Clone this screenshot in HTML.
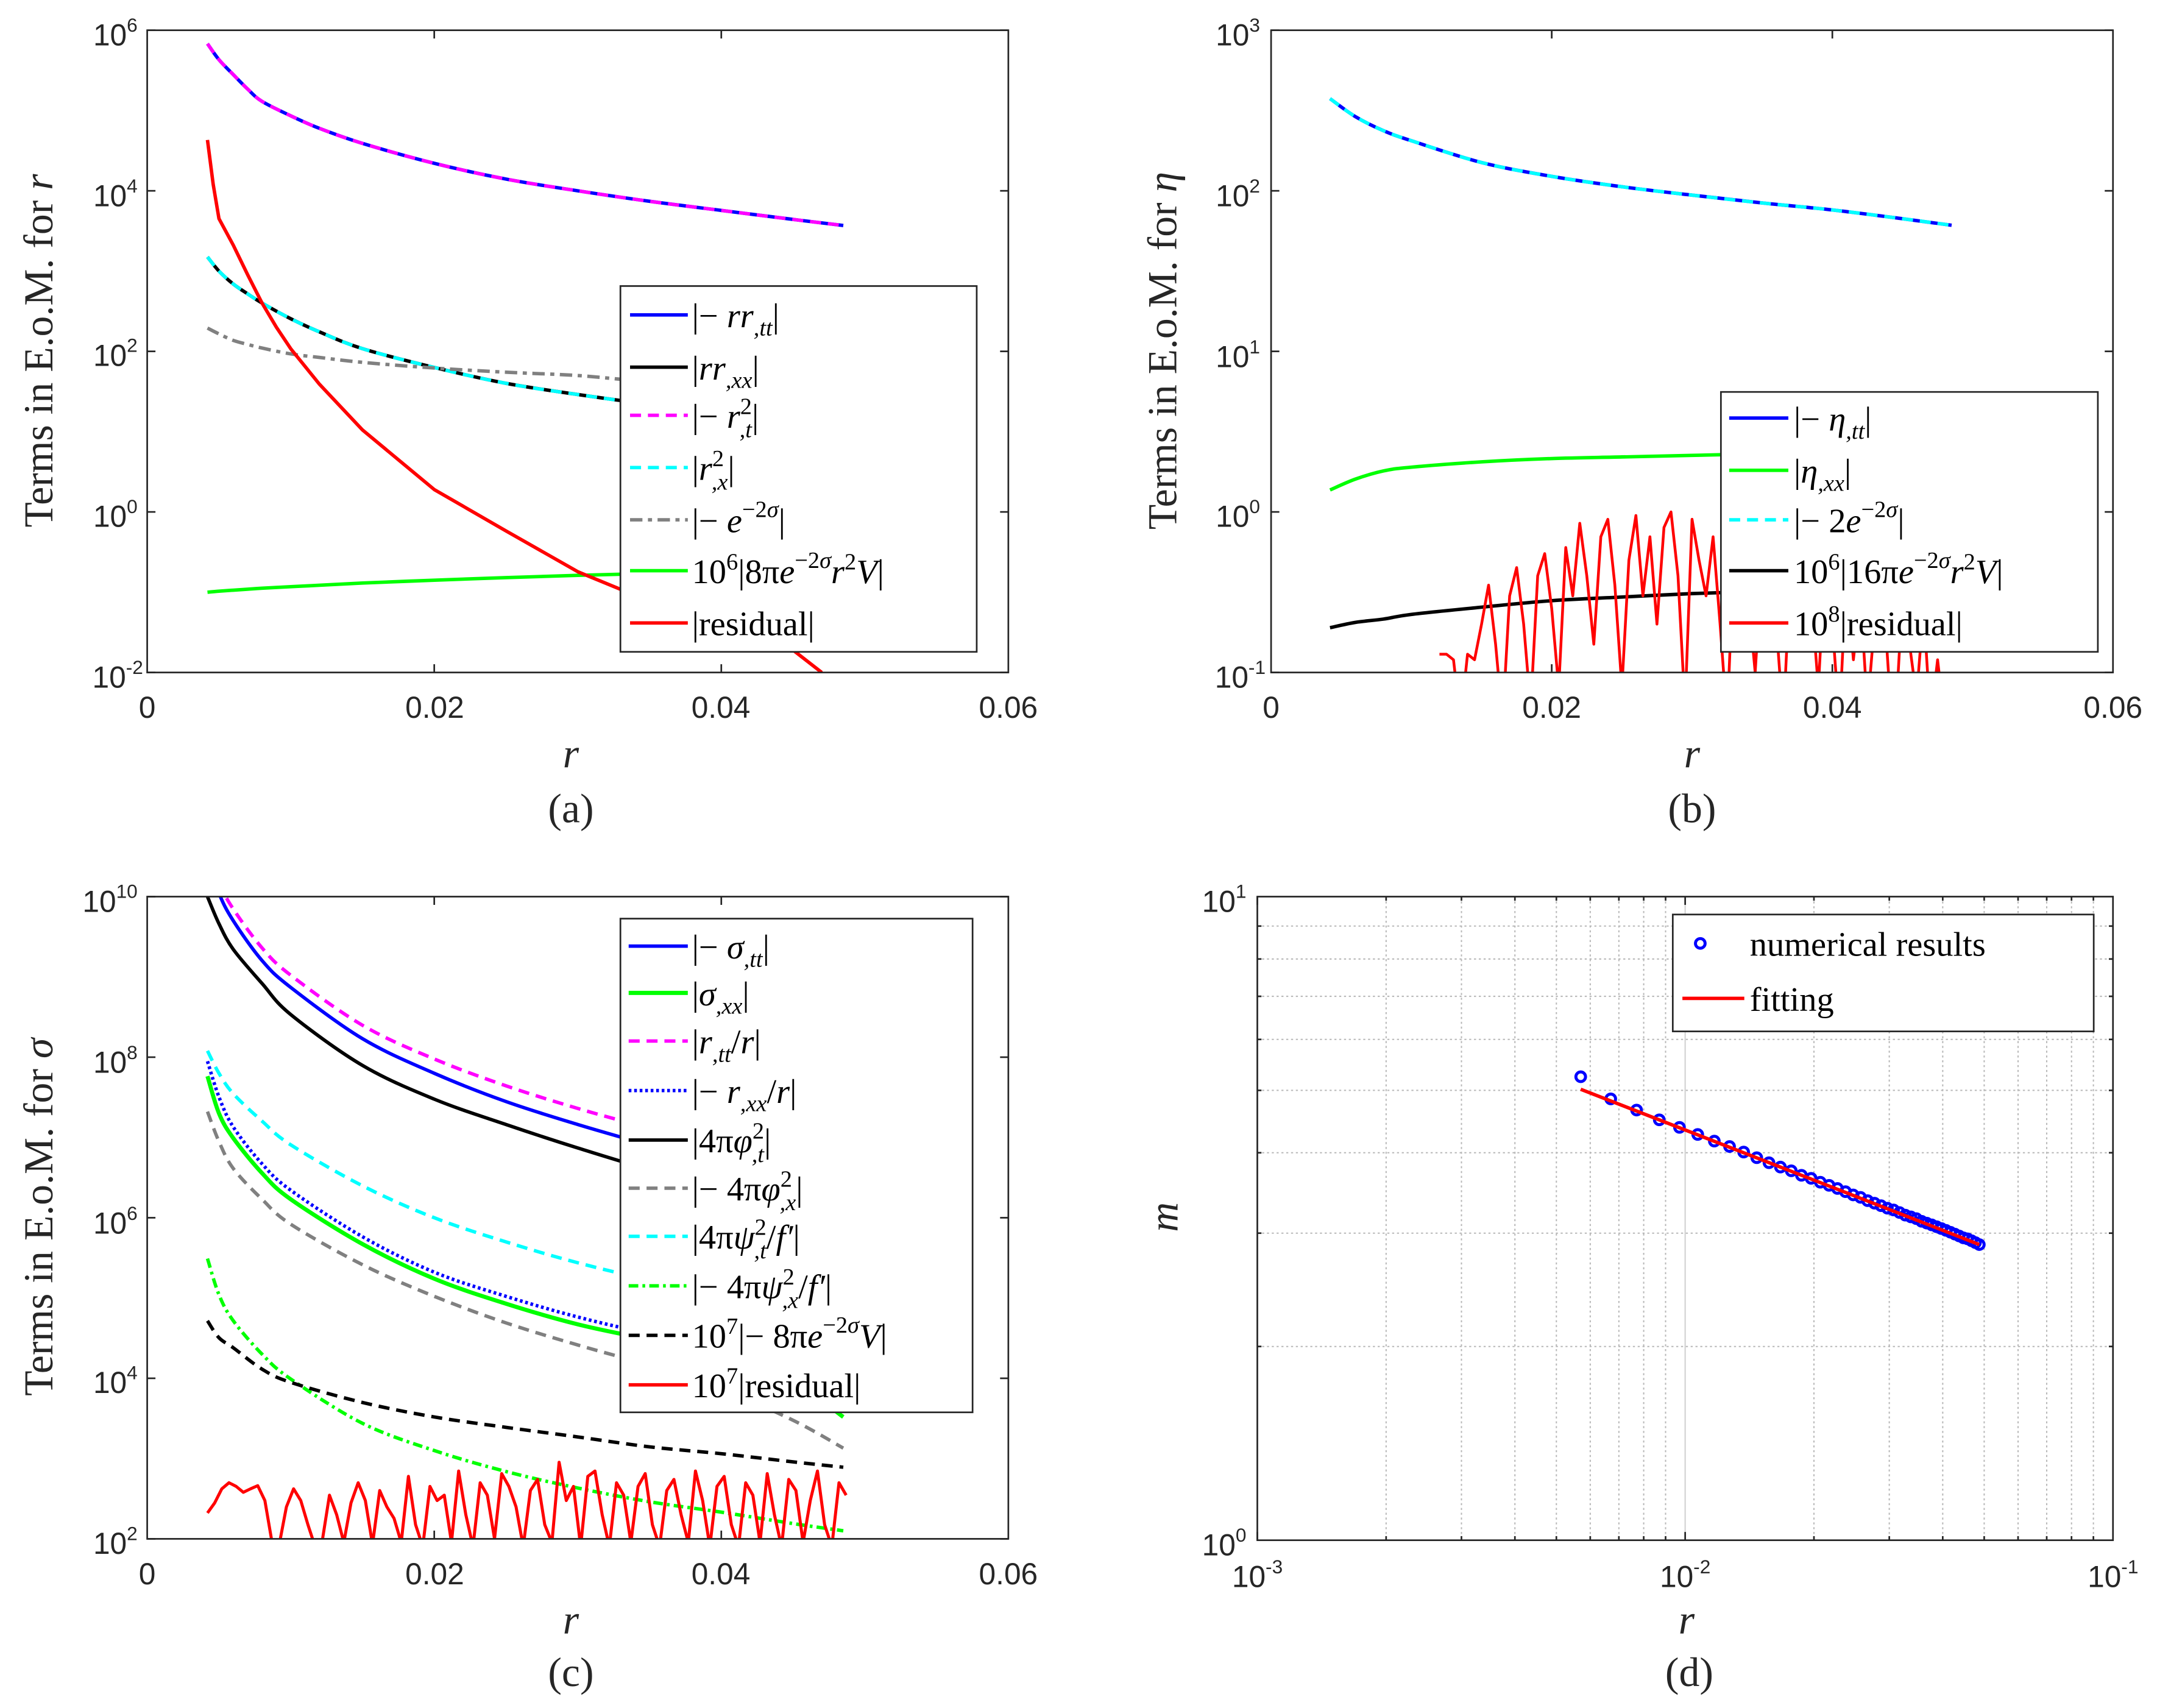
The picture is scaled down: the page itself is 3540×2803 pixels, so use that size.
<!DOCTYPE html>
<html><head><meta charset="utf-8"><style>
html,body{margin:0;padding:0;background:#fff;}
svg{display:block;}
.tk{font-family:"Liberation Sans",sans-serif;font-size:22px;fill:#262626;}
.sp{font-size:14px;}
.ax{font-family:"Liberation Serif",serif;font-size:30px;fill:#262626;}
.lg{font-family:"Liberation Serif",serif;font-size:25px;fill:#000;}
.it{font-style:italic;}
.sb{font-size:17px;}
</style></head><body>
<svg id="fig" xmlns="http://www.w3.org/2000/svg" width="3540" height="2803" viewBox="0 0 1568 1242" preserveAspectRatio="none">
<defs>
<clipPath id="ca"><rect x="107" y="22" width="626" height="467"/></clipPath>
<clipPath id="cb"><rect x="924" y="22" width="612" height="467"/></clipPath>
<clipPath id="cc"><rect x="107" y="652" width="626" height="467"/></clipPath>
<clipPath id="cd"><rect x="914" y="652" width="622" height="468"/></clipPath>
</defs>
<rect width="1568" height="1242" fill="#fff"/>
<g id="grid-d"></g>
<g id="series-a" clip-path="url(#ca)"></g>
<g id="series-b" clip-path="url(#cb)"></g>
<g id="series-c" clip-path="url(#cc)"></g>
<g id="series-d" clip-path="url(#cd)"></g>
<g id="axes" fill="none" stroke="#262626" stroke-width="1.2"></g>

<g class="tk">
<text x="107" y="522" text-anchor="middle">0</text>
<text x="316" y="522" text-anchor="middle">0.02</text>
<text x="524" y="522" text-anchor="middle">0.04</text>
<text x="733" y="522" text-anchor="middle">0.06</text>
<text x="100" y="33" text-anchor="end">10<tspan class="sp" dy="-10">6</tspan></text>
<text x="100" y="150" text-anchor="end">10<tspan class="sp" dy="-10">4</tspan></text>
<text x="100" y="266" text-anchor="end">10<tspan class="sp" dy="-10">2</tspan></text>
<text x="100" y="383" text-anchor="end">10<tspan class="sp" dy="-10">0</tspan></text>
<text x="104" y="500" text-anchor="end">10<tspan class="sp" dy="-10">-2</tspan></text>
</g>
<text class="ax it" x="415" y="558" text-anchor="middle">r</text>
<text class="ax" x="415" y="598" text-anchor="middle">(a)</text>
<text class="ax" transform="translate(38,255) rotate(-90)" text-anchor="middle">Terms in E.o.M. for <tspan class="it">r</tspan></text>

<g class="tk">
<text x="924" y="522" text-anchor="middle">0</text>
<text x="1128" y="522" text-anchor="middle">0.02</text>
<text x="1332" y="522" text-anchor="middle">0.04</text>
<text x="1536" y="522" text-anchor="middle">0.06</text>
<text x="916" y="33" text-anchor="end">10<tspan class="sp" dy="-10">3</tspan></text>
<text x="916" y="150" text-anchor="end">10<tspan class="sp" dy="-10">2</tspan></text>
<text x="916" y="267" text-anchor="end">10<tspan class="sp" dy="-10">1</tspan></text>
<text x="916" y="383" text-anchor="end">10<tspan class="sp" dy="-10">0</tspan></text>
<text x="920" y="500" text-anchor="end">10<tspan class="sp" dy="-10">-1</tspan></text>
</g>
<text class="ax it" x="1230" y="558" text-anchor="middle">r</text>
<text class="ax" x="1230" y="598" text-anchor="middle">(b)</text>
<text class="ax" transform="translate(855,255) rotate(-90)" text-anchor="middle">Terms in E.o.M. for <tspan class="it">η</tspan></text>

<g class="tk">
<text x="107" y="1152" text-anchor="middle">0</text>
<text x="316" y="1152" text-anchor="middle">0.02</text>
<text x="524" y="1152" text-anchor="middle">0.04</text>
<text x="733" y="1152" text-anchor="middle">0.06</text>
<text x="100" y="663" text-anchor="end">10<tspan class="sp" dy="-10">10</tspan></text>
<text x="100" y="780" text-anchor="end">10<tspan class="sp" dy="-10">8</tspan></text>
<text x="100" y="897" text-anchor="end">10<tspan class="sp" dy="-10">6</tspan></text>
<text x="100" y="1013" text-anchor="end">10<tspan class="sp" dy="-10">4</tspan></text>
<text x="100" y="1130" text-anchor="end">10<tspan class="sp" dy="-10">2</tspan></text>
</g>
<text class="ax it" x="415" y="1188" text-anchor="middle">r</text>
<text class="ax" x="415" y="1226" text-anchor="middle">(c)</text>
<text class="ax" transform="translate(38,885) rotate(-90)" text-anchor="middle">Terms in E.o.M. for <tspan class="it">σ</tspan></text>

<g class="tk">
<text x="914" y="1154" text-anchor="middle">10<tspan class="sp" dy="-10">-3</tspan></text>
<text x="1225" y="1154" text-anchor="middle">10<tspan class="sp" dy="-10">-2</tspan></text>
<text x="1536" y="1154" text-anchor="middle">10<tspan class="sp" dy="-10">-1</tspan></text>
<text x="906" y="663" text-anchor="end">10<tspan class="sp" dy="-10">1</tspan></text>
<text x="906" y="1131" text-anchor="end">10<tspan class="sp" dy="-10">0</tspan></text>
</g>
<text class="ax it" x="1226" y="1188" text-anchor="middle">r</text>
<text class="ax" x="1228" y="1226" text-anchor="middle">(d)</text>
<text class="ax it" transform="translate(856,885) rotate(-90)" text-anchor="middle">m</text>

<g>
<rect x="451" y="208" width="259" height="266" fill="#fff" stroke="#262626" stroke-width="1.2"/>
<line x1="458" y1="229" x2="500" y2="229" stroke="#0000ff" stroke-width="2.5"/>
<text class="lg" x="503" y="238">|− <tspan class="it">rr</tspan><tspan class="sb it" dy="6">,tt</tspan><tspan dy="-6">|</tspan></text>
<line x1="458" y1="267" x2="500" y2="267" stroke="#000" stroke-width="2.5"/>
<text class="lg" x="503" y="276">|<tspan class="it">rr</tspan><tspan class="sb it" dy="6">,xx</tspan><tspan dy="-6">|</tspan></text>
<line x1="458" y1="302" x2="500" y2="302" stroke="#ff00ff" stroke-width="2.5" stroke-dasharray="8,5"/>
<text class="lg" x="503" y="311">|− <tspan class="it">r</tspan><tspan class="sb" dy="-10">2</tspan><tspan class="sb it" dx="-9" dy="17">,t</tspan><tspan dy="-7">|</tspan></text>
<line x1="458" y1="340" x2="500" y2="340" stroke="#00ffff" stroke-width="2.5" stroke-dasharray="8,5"/>
<text class="lg" x="503" y="349">|<tspan class="it">r</tspan><tspan class="sb" dy="-10">2</tspan><tspan class="sb it" dx="-9" dy="17">,x</tspan><tspan dy="-7">|</tspan></text>
<line x1="458" y1="378" x2="500" y2="378" stroke="#808080" stroke-width="2.5" stroke-dasharray="9,4,3,4"/>
<text class="lg" x="503" y="387">|− <tspan class="it">e</tspan><tspan class="sb" dy="-11">−2<tspan class="it">σ</tspan></tspan><tspan dy="11">|</tspan></text>
<line x1="458" y1="415" x2="500" y2="415" stroke="#00ff00" stroke-width="2.5"/>
<text class="lg" x="503" y="424">10<tspan class="sb" dy="-10">6</tspan><tspan dy="10">|8π</tspan><tspan class="it">e</tspan><tspan class="sb" dy="-11">−2<tspan class="it">σ</tspan></tspan><tspan class="it" dy="11">r</tspan><tspan class="sb" dy="-10">2</tspan><tspan class="it" dy="10">V</tspan>|</text>
<line x1="458" y1="453" x2="500" y2="453" stroke="#ff0000" stroke-width="2.5"/>
<text class="lg" x="503" y="462">|residual|</text>
</g>

<g>
<rect x="1251" y="285" width="274" height="189" fill="#fff" stroke="#262626" stroke-width="1.2"/>
<line x1="1257" y1="304" x2="1300" y2="304" stroke="#0000ff" stroke-width="2.5"/>
<text class="lg" x="1304" y="313">|− <tspan class="it">η</tspan><tspan class="sb it" dy="6">,tt</tspan><tspan dy="-6">|</tspan></text>
<line x1="1257" y1="342" x2="1300" y2="342" stroke="#00ff00" stroke-width="2.5"/>
<text class="lg" x="1304" y="351">|<tspan class="it">η</tspan><tspan class="sb it" dy="6">,xx</tspan><tspan dy="-6">|</tspan></text>
<line x1="1257" y1="378" x2="1300" y2="378" stroke="#00ffff" stroke-width="2.5" stroke-dasharray="8,5"/>
<text class="lg" x="1304" y="387">|− 2<tspan class="it">e</tspan><tspan class="sb" dy="-11">−2<tspan class="it">σ</tspan></tspan><tspan dy="11">|</tspan></text>
<line x1="1257" y1="415" x2="1300" y2="415" stroke="#000" stroke-width="2.5"/>
<text class="lg" x="1304" y="424">10<tspan class="sb" dy="-10">6</tspan><tspan dy="10">|16π</tspan><tspan class="it">e</tspan><tspan class="sb" dy="-11">−2<tspan class="it">σ</tspan></tspan><tspan class="it" dy="11">r</tspan><tspan class="sb" dy="-10">2</tspan><tspan class="it" dy="10">V</tspan>|</text>
<line x1="1257" y1="453" x2="1300" y2="453" stroke="#ff0000" stroke-width="2.5"/>
<text class="lg" x="1304" y="462">10<tspan class="sb" dy="-10">8</tspan><tspan dy="10">|residual|</tspan></text>
</g>

<g>
<rect x="451" y="668" width="256" height="359" fill="#fff" stroke="#262626" stroke-width="1.2"/>
<line x1="457" y1="688" x2="500" y2="688" stroke="#0000ff" stroke-width="2.5"/>
<text class="lg" x="503" y="697">|− <tspan class="it">σ</tspan><tspan class="sb it" dy="6">,tt</tspan><tspan dy="-6">|</tspan></text>
<line x1="457" y1="722" x2="500" y2="722" stroke="#00ff00" stroke-width="3"/>
<text class="lg" x="503" y="731">|<tspan class="it">σ</tspan><tspan class="sb it" dy="6">,xx</tspan><tspan dy="-6">|</tspan></text>
<line x1="457" y1="757" x2="500" y2="757" stroke="#ff00ff" stroke-width="2.5" stroke-dasharray="8,5"/>
<text class="lg" x="503" y="766">|<tspan class="it">r</tspan><tspan class="sb it" dy="6">,tt</tspan><tspan dy="-6">/</tspan><tspan class="it">r</tspan>|</text>
<line x1="457" y1="793" x2="500" y2="793" stroke="#0000ff" stroke-width="2.5" stroke-dasharray="2,2"/>
<text class="lg" x="503" y="802">|− <tspan class="it">r</tspan><tspan class="sb it" dy="6">,xx</tspan><tspan dy="-6">/</tspan><tspan class="it">r</tspan>|</text>
<line x1="457" y1="829" x2="500" y2="829" stroke="#000" stroke-width="2.5"/>
<text class="lg" x="503" y="838">|4π<tspan class="it">φ</tspan><tspan class="sb" dy="-10">2</tspan><tspan class="sb it" dx="-9" dy="17">,t</tspan><tspan dy="-7">|</tspan></text>
<line x1="457" y1="864" x2="500" y2="864" stroke="#808080" stroke-width="2.5" stroke-dasharray="8,5"/>
<text class="lg" x="503" y="873">|− 4π<tspan class="it">φ</tspan><tspan class="sb" dy="-10">2</tspan><tspan class="sb it" dx="-9" dy="17">,x</tspan><tspan dy="-7">|</tspan></text>
<line x1="457" y1="899" x2="500" y2="899" stroke="#00ffff" stroke-width="2.5" stroke-dasharray="8,5"/>
<text class="lg" x="503" y="908">|4π<tspan class="it">ψ</tspan><tspan class="sb" dy="-10">2</tspan><tspan class="sb it" dx="-9" dy="17">,t</tspan><tspan dy="-7">/</tspan><tspan class="it">f′</tspan>|</text>
<line x1="457" y1="935" x2="500" y2="935" stroke="#00ff00" stroke-width="2.5" stroke-dasharray="7,3,2,3"/>
<text class="lg" x="503" y="944">|− 4π<tspan class="it">ψ</tspan><tspan class="sb" dy="-10">2</tspan><tspan class="sb it" dx="-9" dy="17">,x</tspan><tspan dy="-7">/</tspan><tspan class="it">f′</tspan>|</text>
<line x1="457" y1="971" x2="500" y2="971" stroke="#000" stroke-width="2.5" stroke-dasharray="8,5"/>
<text class="lg" x="503" y="980">10<tspan class="sb" dy="-10">7</tspan><tspan dy="10">|− 8π</tspan><tspan class="it">e</tspan><tspan class="sb" dy="-11">−2<tspan class="it">σ</tspan></tspan><tspan class="it" dy="11">V</tspan>|</text>
<line x1="457" y1="1007" x2="500" y2="1007" stroke="#ff0000" stroke-width="2.5"/>
<text class="lg" x="503" y="1016">10<tspan class="sb" dy="-10">7</tspan><tspan dy="10">|residual|</tspan></text>
</g>

<g>
<rect x="1216" y="665" width="306" height="85" fill="#fff" stroke="#262626" stroke-width="1.2"/>
<circle cx="1236" cy="686" r="3.5" fill="none" stroke="#0000ff" stroke-width="2.2"/>
<text class="lg" x="1272" y="695">numerical results</text>
<line x1="1223" y1="726" x2="1268" y2="726" stroke="#ff0000" stroke-width="2.5"/>
<text class="lg" x="1272" y="735">fitting</text>
</g>
</svg>
<script>
const aR = [0.0042,0.005,0.006,0.007,0.008,0.01,0.012,0.015,0.02,0.025,0.03,0.035,0.04,0.045,0.0485];
const aRtt = [6.8e5,4.3e5,2.8e5,1.85e5,1.3e5,8.6e4,6.0e4,3.9e4,2.2e4,1.4e4,1.0e4,7.4e3,5.7e3,4.4e3,3.7e3];
const aRxx = [1500,1000,690,520,400,255,175,108,63,40,29,22,18,15,13];
const aExp = [195,165,137,122,110,93,84,73,62,55,50,42,39,36,34];
const aV = [0.1,0.103,0.106,0.109,0.112,0.117,0.122,0.13,0.141,0.152,0.162,0.171,0.18,0.188,0.195];
const aResR = [0.0042,0.0046,0.005,0.006,0.007,0.008,0.009,0.01,0.012,0.015,0.02,0.025,0.03,0.035,0.04,0.045,0.047];
const aRes = [4.3e4,1.2e4,4.5e3,2.1e3,900,400,200,108,39,10.5,1.9,0.58,0.18,0.077,0.038,0.019,0.01];
const bR = [0.0042,0.006,0.008,0.01,0.015,0.02,0.025,0.03,0.035,0.04,0.045,0.0485];
const bEtt = [375,290,237,205,150,123,106,94,84,76,67,61];
const bExx = [1.37,1.6,1.8,1.9,2.05,2.15,2.2,2.25,2.3,2.33,2.36,2.4];
const bV = [0.19,0.205,0.215,0.23,0.255,0.28,0.295,0.31,0.32,0.33,0.34,0.35];
const bResStart = 0.012, bResStep = 0.0005;
const bRes = [0.13,0.13,0.12,0.05,0.13,0.12,0.2,0.35,0.15,0.05,0.3,0.45,0.2,0.06,0.4,0.55,0.25,0.08,0.6,0.3,0.85,0.4,0.15,0.7,0.9,0.35,0.08,0.5,0.95,0.3,0.7,0.2,0.8,1.0,0.4,0.06,0.9,0.5,0.3,0.7,0.2,0.05,0.6,0.8,0.3,0.1,0.5,0.7,0.2,0.05,0.4,0.6,0.15,0.3,0.08,0.5,0.2,0.05,0.4,0.12,0.3,0.06,0.2,0.45,0.1,0.05,0.3,0.15,0.07,0.25,0.05,0.12,0.05];
const cR = [0.0042,0.005,0.006,0.008,0.01,0.015,0.02,0.025,0.03,0.035,0.04,0.045,0.0485];
const cStt = [3e10,1.1e10,5e9,1.6e9,7.4e8,1.7e8,6.3e7,2.8e7,1.45e7,8e6,4.5e6,2.8e6,2e6];
const cSxx = [5.8e7,2e7,9.8e6,3.6e6,1.7e6,4.7e5,1.74e5,8.5e4,4.7e4,3e4,1.8e4,9e3,3.3e3];
const cRttr = [4e10,1.5e10,7e9,2.3e9,1.05e9,2.5e8,9.5e7,4.4e7,2.3e7,1.3e7,7.5e6,4.7e6,3.4e6];
const cRxxr = [8.9e7,3.2e7,1.35e7,4.7e6,2.2e6,5.8e5,2.1e5,1.05e5,5.8e4,3.6e4,2.5e4,1.8e4,1.5e4];
const cPhiT = [1e10,4.6e9,2.2e9,8.3e8,3.4e8,7.9e7,3e7,1.45e7,7.4e6,4e6,2.5e6,1.8e6,1.4e6];
const cPhiX = [2.1e7,8.9e6,4.1e6,1.7e6,8.3e5,2.6e5,1.05e5,4.9e4,2.6e4,1.45e4,7.4e3,3e3,1.35e3];
const cPsiT = [1.2e8,6.3e7,3.5e7,1.6e7,8.1e6,2.5e6,1e6,5e5,2.75e5,1.7e5,1.25e5,1.0e5,9e4];
const cPsiX = [3.1e5,1.1e5,5.2e4,2e4,9.8e3,2.75e3,1.26e3,690,430,290,215,155,126];
const cV = [5.2e4,3.2e4,2.4e4,1.3e4,8.9e3,5e3,3.3e3,2.45e3,1.86e3,1.4e3,1.15e3,910,780];
const cResStart = 0.0042, cResStep = 0.0005;
const cRes = [210,280,420,500,450,380,420,460,300,90,85,250,420,300,150,80,95,350,200,90,280,500,300,85,400,250,180,90,600,150,80,450,300,350,90,700,200,80,500,350,100,650,450,250,80,400,550,150,90,900,300,450,80,600,700,200,80,500,350,90,450,650,150,80,400,550,200,90,700,300,80,450,600,150,80,500,350,90,650,200,80,550,400,90,300,700,150,80,500,350];
const dR = [0.0057,0.0067,0.0077,0.0087,0.0097,0.0107,0.0117,0.0127,0.0137,0.0147,0.0157,0.0167,0.0177,0.0187,0.0197,0.0207,0.0217,0.0227,0.0237,0.0247,0.0257,0.0267,0.0277,0.0287,0.0297,0.0307,0.0317,0.0327,0.0337,0.0347,0.0357,0.0367,0.0377,0.0387,0.0397,0.0407,0.0417,0.0427,0.0437,0.0447,0.0457,0.0467,0.0477,0.0487];
const dM = [5.25,4.85,4.66,4.50,4.38,4.27,4.17,4.09,4.01,3.93,3.86,3.80,3.75,3.69,3.65,3.60,3.56,3.52,3.48,3.44,3.41,3.37,3.34,3.31,3.28,3.26,3.23,3.20,3.18,3.16,3.13,3.11,3.09,3.07,3.05,3.03,3.01,2.99,2.97,2.95,2.94,2.92,2.90,2.88];
const fitR = [0.0057,0.0487];
const fitM = [5.02,2.88];

const xA = v => 107 + v / 0.06 * 626;
const yA = v => 489 - (Math.log10(v) + 2) * 58.375;
const xB = v => 924 + v / 0.06 * 612;
const yB = v => 489 - (Math.log10(v) + 1) * 116.75;
const xC = v => 107 + v / 0.06 * 626;
const yC = v => 1119 - (Math.log10(v) - 2) * 58.375;
const xD = v => 914 + (Math.log10(v) + 3) * 311;
const yD = v => 1120 - Math.log10(v) * 468;

const NS = 'http://www.w3.org/2000/svg';
function mk(tag, parent) { const e = document.createElementNS(NS, tag); parent.appendChild(e); return e; }
function smoothPath(pts) {
  let d = 'M' + pts[0][0].toFixed(2) + ',' + pts[0][1].toFixed(2);
  for (let i = 0; i < pts.length - 1; i++) {
    const p0 = pts[Math.max(0, i - 1)], p1 = pts[i], p2 = pts[i + 1], p3 = pts[Math.min(pts.length - 1, i + 2)];
    const c1x = p1[0] + (p2[0] - p0[0]) / 6, c1y = p1[1] + (p2[1] - p0[1]) / 6;
    const c2x = p2[0] - (p3[0] - p1[0]) / 6, c2y = p2[1] - (p3[1] - p1[1]) / 6;
    d += 'C' + c1x.toFixed(2) + ',' + c1y.toFixed(2) + ' ' + c2x.toFixed(2) + ',' + c2y.toFixed(2) + ' ' + p2[0].toFixed(2) + ',' + p2[1].toFixed(2);
  }
  return d;
}
function linePath(pts) { return pts.map((p, i) => (i ? 'L' : 'M') + p[0].toFixed(2) + ',' + p[1].toFixed(2)).join(''); }
function series(g, xs, ys, fx, fy, color, dash, name, smooth, w) {
  const pts = xs.map((x, i) => [fx(x), fy(Math.max(ys[i], 1e-30))]);
  const p = mk('path', g);
  
  
  p.setAttribute('d', smooth ? smoothPath(pts) : linePath(pts));
  p.setAttribute('fill', 'none');
  p.setAttribute('stroke', color);
  p.setAttribute('stroke-width', w || 2.5);
  p.setAttribute('stroke-linejoin', 'round');
  if (dash) p.setAttribute('stroke-dasharray', dash);
}
const DASH = '8,5', DASHDOT = '9,4,3,4', DOT = '2,2', DASHDOT2 = '7,3,2,3';

const gA = document.getElementById('series-a');
series(gA, aR, aRtt, xA, yA, '#0000ff', null, 'series-a-rtt', true);
series(gA, aR, aRxx, xA, yA, '#000000', null, 'series-a-rxx', true);
series(gA, aR, aRtt, xA, yA, '#ff00ff', DASH, 'series-a-rt2', true);
series(gA, aR, aRxx, xA, yA, '#00ffff', DASH, 'series-a-rx2', true);
series(gA, aR, aExp, xA, yA, '#808080', DASHDOT, 'series-a-exp', true);
series(gA, aR, aV, xA, yA, '#00ff00', null, 'series-a-potential', true);
series(gA, aResR, aRes, xA, yA, '#ff0000', null, 'series-a-residual', false);

const gB = document.getElementById('series-b');
series(gB, bR, bEtt, xB, yB, '#0000ff', null, 'series-b-eta-tt', true);
series(gB, bR, bEtt, xB, yB, '#00ffff', DASH, 'series-b-exp', true);
series(gB, bR, bExx, xB, yB, '#00ff00', null, 'series-b-eta-xx', true);
series(gB, bR, bV, xB, yB, '#000000', null, 'series-b-potential', true);
const bResR = bRes.map((_, i) => bResStart + i * bResStep);
series(gB, bResR, bRes, xB, yB, '#ff0000', null, 'series-b-residual', false, 2);

const gC = document.getElementById('series-c');
series(gC, cR, cStt, xC, yC, '#0000ff', null, 'series-c-sigma-tt', true);
series(gC, cR, cRttr, xC, yC, '#ff00ff', DASH, 'series-c-rtt-over-r', true);
series(gC, cR, cPhiT, xC, yC, '#000000', null, 'series-c-phi-t', true);
series(gC, cR, cPsiT, xC, yC, '#00ffff', DASH, 'series-c-psi-t', true);
series(gC, cR, cSxx, xC, yC, '#00ff00', null, 'series-c-sigma-xx', true, 3);
series(gC, cR, cRxxr, xC, yC, '#0000ff', DOT, 'series-c-rxx-over-r', true);
series(gC, cR, cPhiX, xC, yC, '#808080', DASH, 'series-c-phi-x', true);
series(gC, cR, cPsiX, xC, yC, '#00ff00', DASHDOT2, 'series-c-psi-x', true);
series(gC, cR, cV, xC, yC, '#000000', DASH, 'series-c-potential', true);
const cResR = cRes.map((_, i) => cResStart + i * cResStep);
series(gC, cResR, cRes, xC, yC, '#ff0000', null, 'series-c-residual', false, 2.2);

const gG = document.getElementById('grid-d');
for (let e = -3; e < -1; e++) {
  for (let k = 1; k < 10; k++) {
    const v = k * Math.pow(10, e);
    const l = mk('line', gG);
    
    
    l.setAttribute('x1', xD(v)); l.setAttribute('x2', xD(v));
    l.setAttribute('y1', 652); l.setAttribute('y2', 1120);
    l.setAttribute('stroke', k === 1 ? '#d0d0d0' : '#b8b8b8');
    l.setAttribute('stroke-width', 0.9);
    if (k !== 1) l.setAttribute('stroke-dasharray', '1.5,2');
  }
}
for (let k = 2; k < 10; k++) {
  const l = mk('line', gG);
  
  
  l.setAttribute('x1', 914); l.setAttribute('x2', 1536);
  l.setAttribute('y1', yD(k)); l.setAttribute('y2', yD(k));
  l.setAttribute('stroke', '#b8b8b8');
  l.setAttribute('stroke-width', 0.9);
  l.setAttribute('stroke-dasharray', '1.5,2');
}

const gD = document.getElementById('series-d');
dR.forEach((r, i) => {
  const c = mk('circle', gD);
  
  
  c.setAttribute('cx', xD(r)); c.setAttribute('cy', yD(dM[i]));
  c.setAttribute('r', 3.5);
  c.setAttribute('fill', 'none'); c.setAttribute('stroke', '#0000ff'); c.setAttribute('stroke-width', 2.2);
});
series(gD, fitR, fitM, xD, yD, '#ff0000', null, 'fit-line', false, 2.5);

const gAx = document.getElementById('axes');
function box(x0, y0, x1, y1, name) {
  const r = mk('rect', gAx);
  
  
  r.setAttribute('x', x0); r.setAttribute('y', y0);
  r.setAttribute('width', x1 - x0); r.setAttribute('height', y1 - y0);
}
function tick(x1, y1, x2, y2) {
  const l = mk('line', gAx);
  
  
  l.setAttribute('x1', x1); l.setAttribute('y1', y1); l.setAttribute('x2', x2); l.setAttribute('y2', y2);
}
box(107, 22, 733, 489, 'axes-box-a');
box(924, 22, 1536, 489, 'axes-box-b');
box(107, 652, 733, 1119, 'axes-box-c');
box(914, 652, 1536, 1120, 'axes-box-d');
[[107,733,22,489,xA,yA,[0.02,0.04],[1e-2,1,1e2,1e4,1e6]],
 [924,1536,22,489,xB,yB,[0.02,0.04],[0.1,1,10,100,1000]],
 [107,733,652,1119,xC,yC,[0.02,0.04],[1e2,1e4,1e6,1e8,1e10]]].forEach(p => {
  p[6].forEach(v => { const x = p[4](v); tick(x, p[3], x, p[3] - 6); tick(x, p[2], x, p[2] + 6); });
  p[7].forEach(v => { const y = p[5](v); tick(p[0], y, p[0] + 6, y); tick(p[1], y, p[1] - 6, y); });
});
for (let e = -3; e < -1; e++) for (let k = 1; k < 10; k++) {
  const x = xD(k * Math.pow(10, e));
  const len = k === 1 ? 6 : 3;
  tick(x, 1120, x, 1120 - len); tick(x, 652, x, 652 + len);
}
for (let k = 2; k < 10; k++) { const y = yD(k); tick(914, y, 917, y); tick(1536, y, 1533, y); }
</script>
</body></html>
